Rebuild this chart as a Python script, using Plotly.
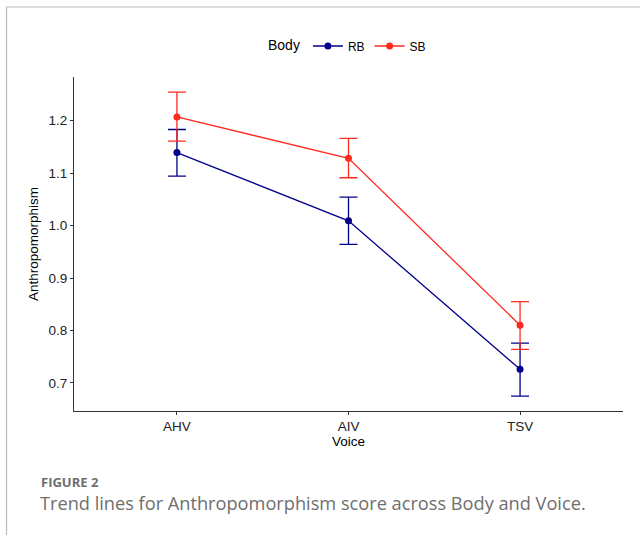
import plotly.graph_objects as go

voice = ["AHV", "AIV", "TSV"]
rb_mean = [1.139, 1.009, 0.726]
rb_upper = [1.183, 1.054, 0.776]
rb_lower = [1.094, 0.964, 0.675]
sb_mean = [1.207, 1.128, 0.810]
sb_upper = [1.254, 1.166, 0.855]
sb_lower = [1.161, 1.091, 0.764]

RB_COLOR = "#00008B"
SB_COLOR = "#FF2A1E"

xpos = [1, 2, 3]

def trace(name, mean, up, lo, color):
    return go.Scatter(
        x=xpos, y=mean, name=name, mode="lines+markers",
        line=dict(color=color, width=1.3),
        marker=dict(color=color, size=7),
        error_y=dict(type="data", symmetric=False,
                     array=[u - m for u, m in zip(up, mean)],
                     arrayminus=[m - l for m, l in zip(mean, lo)],
                     color=color, thickness=1.3, width=9),
    )

fig = go.Figure([trace("RB", rb_mean, rb_upper, rb_lower, RB_COLOR),
                 trace("SB", sb_mean, sb_upper, sb_lower, SB_COLOR)])

L, R, T, B = 74, 17, 77, 124
W, H = 640, 535
pw, ph = W - L - R, H - T - B

def px(x):
    return (x - L) / pw

def py(y):
    return (H - B - y) / ph

fig.update_layout(
    width=W, height=H,
    margin=dict(l=L, r=R, t=T, b=B),
    paper_bgcolor="white", plot_bgcolor="white",
    font=dict(family="Liberation Sans, Arial, sans-serif", color="black"),
    showlegend=True,
    legend=dict(orientation="h", x=0.5, xanchor="center", y=py(46), yanchor="middle",
                title=dict(text="Body", font=dict(size=14, color="black")),
                font=dict(size=12, color="black"), itemwidth=30),
    xaxis=dict(range=[0.4, 3.6], tickmode="array", tickvals=xpos, ticktext=voice,
               showline=True, linecolor="#333333", linewidth=1.2,
               ticks="outside", ticklen=3, tickcolor="#333333", tickwidth=1.1,
               showgrid=False, zeroline=False,
               tickfont=dict(size=13.5, color="#222222"),
               title=dict(text="Voice", font=dict(size=13.5, color="black"), standoff=3)),
    yaxis=dict(range=[0.6466, 1.283], tickvals=[0.7, 0.8, 0.9, 1.0, 1.1, 1.2],
               ticktext=["0.7", "0.8", "0.9", "1.0", "1.1", "1.2"],
               showline=True, linecolor="#333333", linewidth=1.2,
               ticks="outside", ticklen=3, tickcolor="#333333", tickwidth=1.1,
               showgrid=False, zeroline=False,
               tickfont=dict(size=13.5, color="#222222"),
               title=dict(text="Anthropomorphism", font=dict(size=13.5, color="black"), standoff=6)),
    shapes=[
        dict(type="line", xref="paper", yref="paper", x0=px(6.5), x1=px(6.5), y0=py(7), y1=py(540),
             line=dict(color="#BBBBBB", width=1.2)),
        dict(type="line", xref="paper", yref="paper", x0=px(6.5), x1=px(645), y0=py(7), y1=py(7),
             line=dict(color="#BBBBBB", width=1.2)),
    ],
    annotations=[
        dict(text="<b>FIGURE 2</b>", xref="paper", yref="paper", x=px(40), y=py(491.5),
             xanchor="left", yanchor="bottom", showarrow=False, borderpad=0,
             font=dict(family="Open Sans, sans-serif", size=13, color="#6E6E6E")),
        dict(text="Trend lines for Anthropomorphism score across Body and Voice.",
             xref="paper", yref="paper", x=px(39), y=py(490),
             xanchor="left", yanchor="top", showarrow=False, borderpad=0,
             font=dict(family="Open Sans, sans-serif", size=18.2, color="#6E6E6E")),
    ],
)

fig.write_html("out.html")
